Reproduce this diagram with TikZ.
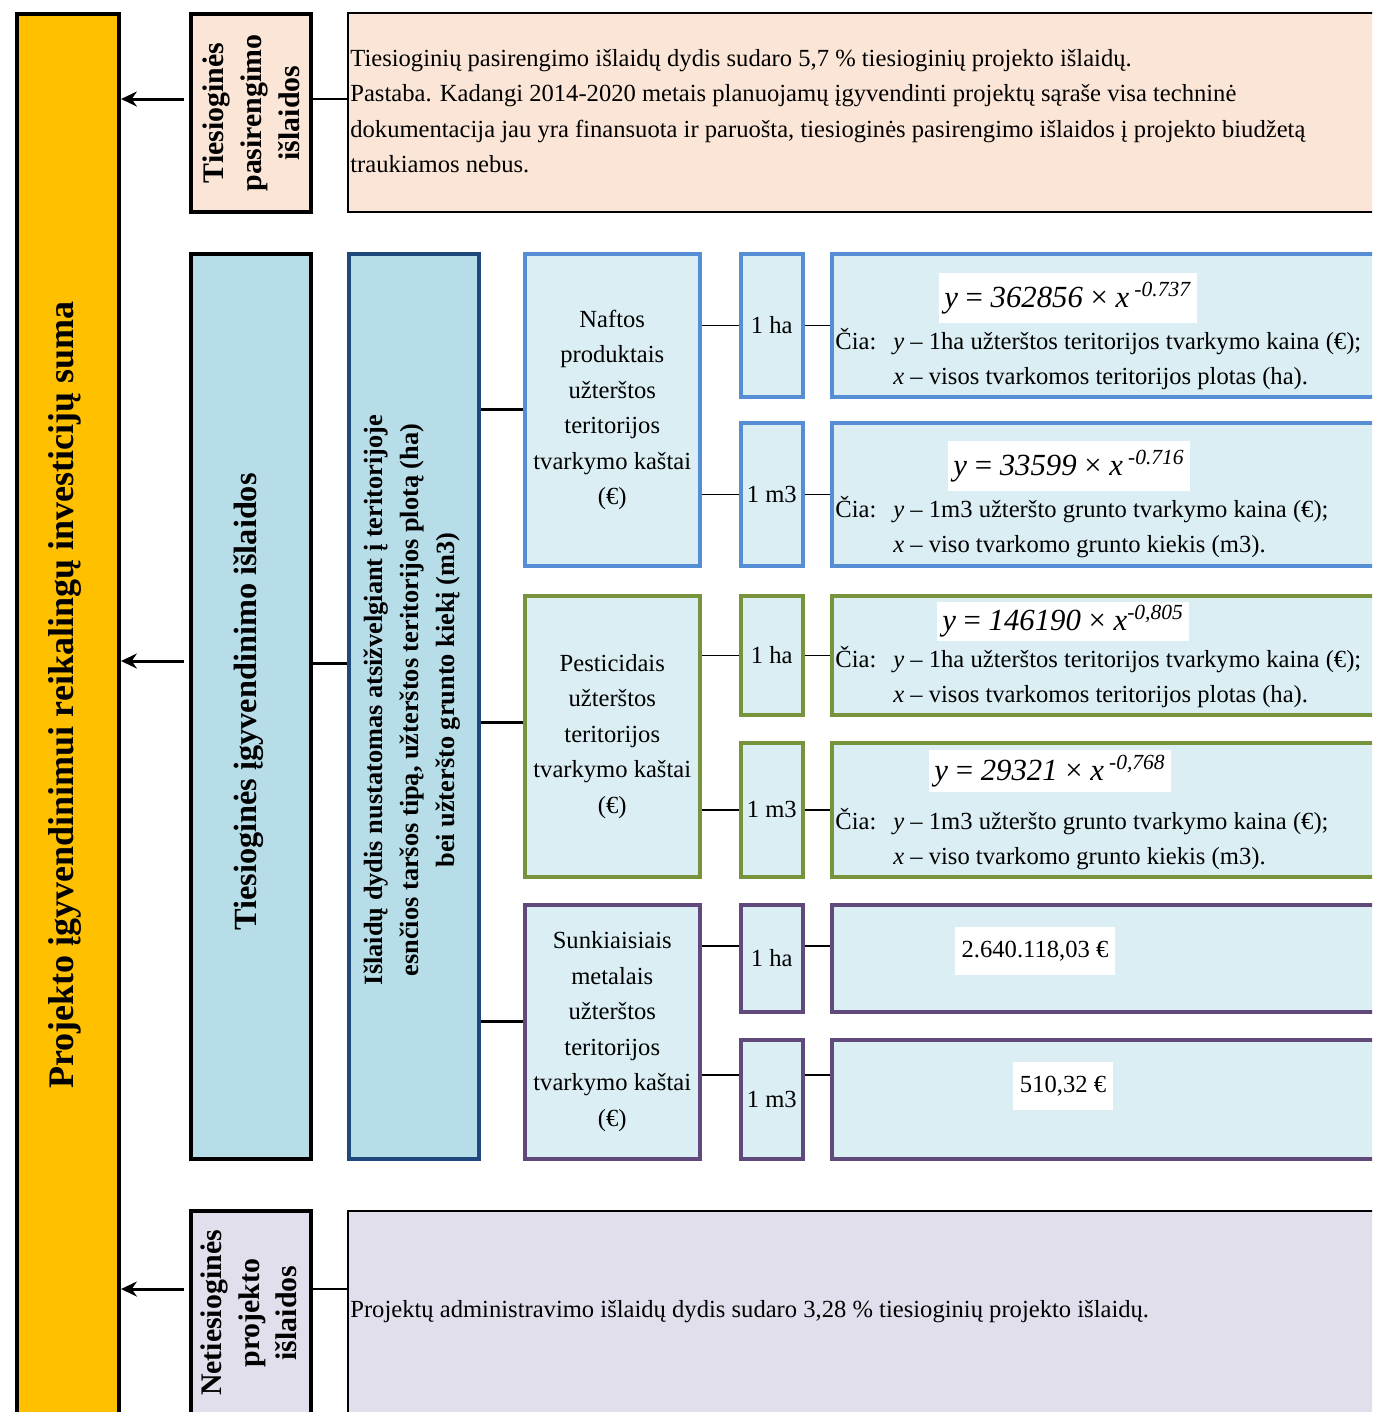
\documentclass[tikz,border=0pt]{standalone}
\usepackage{fontspec}
\setmainfont{Liberation Serif}
\usepackage{xcolor}
\usetikzlibrary{arrows, arrows.meta, positioning}

\definecolor{sumyellow}{HTML}{FFC000}
\definecolor{prepfill}{HTML}{FBE5D6}
\definecolor{implfill}{HTML}{B7DEE8}
\definecolor{paleblue}{HTML}{DAEEF3}
\definecolor{indirfill}{HTML}{E2DFEC}
\definecolor{oilblue}{HTML}{558ED5}
\definecolor{pestgreen}{HTML}{77933C}
\definecolor{metalpurple}{HTML}{604A7B}
\definecolor{navyline}{HTML}{1F497D}

\newcommand{\bodyfont}{\fontsize{14}{20.2}\selectfont}
\newcommand{\cia}[2]{\begin{tabular}{@{}p{1.16cm}@{}l@{}}Čia: & \textit{y} – #1\\ & \textit{x} – #2\end{tabular}}
\newcommand{\powform}[2]{\textit{y} = \textit{#1} × \textit{x}\,\textsuperscript{\textit{#2}}}

\begin{document}
\begin{tikzpicture}[x=0.02cm, y=-0.02cm,
		frame/.style={rectangle, draw=black, line width=2.3pt, anchor=north west, inner sep=0pt},
		notebox/.style={rectangle, draw=black, line width=1.1pt, anchor=north west, inner sep=0pt},
		group/.style={rectangle, draw=#1, line width=2pt, fill=paleblue, anchor=north west,
				inner sep=0pt, align=center, font=\bodyfont},
		boxsize/.style 2 args={minimum width=#1*0.02cm, minimum height=#2*0.02cm},
		vtext/.style={rotate=90, align=center, font=\bfseries\fontsize{17}{21.5}\selectfont},
		formula/.style={fill=white, inner xsep=3pt, inner ysep=5pt, font=\fontsize{17.5}{19}\selectfont},
		explain/.style={anchor=west, inner sep=0pt, align=left, font=\bodyfont},
		arrow/.style={draw, line width=1.7pt, -{Stealth[length=9pt, width=8.5pt]}, shorten <=3pt},
		thinline/.style={draw, line width=0.85pt},
		boldline/.style={draw, line width=1.7pt}]

		\useasboundingbox (0,0) rectangle (1372,1412);
		\clip (0,0) rectangle (1372,1412);
		\fill [white] (0,0) rectangle (1372,1412);

		% Define nodes
		\node [frame, fill=sumyellow, boxsize={102}{1420}] (sum) at (15,12) {};
		\node [vtext, font=\bfseries\fontsize{20.5}{24}\selectfont] (sumtext) at (65,695) {Projekto įgyvendinimui reikalingų investicijų suma};

		\node [frame, fill=prepfill, boxsize={120}{198}] (prep) at (189,12) {};
		\node [vtext] (preptext) at (prep.center) {Tiesioginės\\pasirengimo\\išlaidos};
		\node [notebox, fill=prepfill, boxsize={1100}{199}] (prepnote) at (347,12) {};
		\node [explain] (prepnotetext) at (350,111) {Tiesioginių pasirengimo išlaidų dydis sudaro 5,7 \% tiesioginių projekto išlaidų.\\
				Pastaba. Kadangi 2014-2020 metais planuojamų įgyvendinti projektų sąraše visa techninė\\
				dokumentacija jau yra finansuota ir paruošta, tiesioginės pasirengimo išlaidos į projekto biudžetą\\
				traukiamos nebus.};

		\node [frame, fill=implfill, boxsize={120}{905}] (impl) at (189,252) {};
		\node [vtext, font=\bfseries\fontsize{18.4}{22}\selectfont] (impltext) at (249,702) {Tiesioginės įgyvendinimo išlaidos};
		\node [frame, draw=navyline, line width=2pt, fill=implfill, boxsize={130}{905}] (calc) at (347,252) {};
		\node [vtext, font=\bfseries\fontsize{15}{20.4}\selectfont] (calctext) at (412,700) {Išlaidų dydis nustatomas atsižvelgiant į teritorijoje\\esnčios taršos tipą, užterštos teritorijos plotą (ha)\\bei užteršto grunto kiekį (m3)};

		% oil products
		\node [group=oilblue, boxsize={175}{312}] (oil) at (523,252) {Naftos\\produktais\\užterštos\\teritorijos\\tvarkymo kaštai\\(€)};
		\node [group=oilblue, boxsize={62}{143}] (oilha) at (739,252) {1 ha};
		\node [group=oilblue, boxsize={62}{143}] (oilm3) at (739,421) {1 m3};
		\node [group=oilblue, boxsize={600}{143}] (oilhaval) at (830,252) {};
		\node [group=oilblue, boxsize={600}{143}] (oilm3val) at (830,421) {};
		\node [formula] (oilhaform) at (1068,298) {\powform{362856}{-0.737}};
		\node [explain] (oilhaexpl) at (835,360) {\cia{1ha užterštos teritorijos tvarkymo kaina (€);}{visos tvarkomos teritorijos plotas (ha).}};
		\node [formula] (oilm3form) at (1069,466) {\powform{33599}{-0.716}};
		\node [explain] (oilm3expl) at (835,528) {\cia{1m3 užteršto grunto tvarkymo kaina (€);}{viso tvarkomo grunto kiekis (m3).}};

		% pesticides
		\node [group=pestgreen, boxsize={175}{281}] (pest) at (523,594) {Pesticidais\\užterštos\\teritorijos\\tvarkymo kaštai\\(€)};
		\node [group=pestgreen, boxsize={62}{119}] (pestha) at (739,594) {1 ha};
		\node [group=pestgreen, boxsize={62}{134}] (pestm3) at (739,741) {1 m3};
		\node [group=pestgreen, boxsize={600}{119}] (pesthaval) at (830,594) {};
		\node [group=pestgreen, boxsize={600}{134}] (pestm3val) at (830,741) {};
		\node [formula, inner ysep=2pt] (pesthaform) at (1063,621) {\textit{y} = \textit{146190} × \textit{x}\textsuperscript{\textit{-0,805}}};
		\node [explain] (pesthaexpl) at (835,678) {\cia{1ha užterštos teritorijos tvarkymo kaina (€);}{visos tvarkomos teritorijos plotas (ha).}};
		\node [formula, inner ysep=3pt] (pestm3form) at (1050,771) {\powform{29321}{-0,768}};
		\node [explain] (pestm3expl) at (835,840) {\cia{1m3 užteršto grunto tvarkymo kaina (€);}{viso tvarkomo grunto kiekis (m3).}};

		% heavy metals
		\node [group=metalpurple, boxsize={175}{254}] (metal) at (523,903) {Sunkiaisiais\\metalais\\užterštos\\teritorijos\\tvarkymo kaštai\\(€)};
		\node [group=metalpurple, boxsize={62}{107}] (metalha) at (739,903) {1 ha};
		\node [group=metalpurple, boxsize={62}{119}] (metalm3) at (739,1038) {1 m3};
		\node [group=metalpurple, boxsize={600}{107}] (metalhaval) at (830,903) {};
		\node [group=metalpurple, boxsize={600}{119}] (metalm3val) at (830,1038) {};
		\node [formula, font=\bodyfont, inner xsep=4pt, inner ysep=8pt] (metalhasum) at (1035,951) {2.640.118,03 €};
		\node [formula, font=\bodyfont, inner xsep=4pt, inner ysep=8pt] (metalm3sum) at (1063,1086) {510,32 €};

		\node [frame, fill=indirfill, boxsize={120}{210}] (indir) at (189,1209) {};
		\node [vtext] (indirtext) at (249,1313) {Netiesioginės\\projekto\\išlaidos};
		\node [notebox, fill=indirfill, boxsize={1100}{210}] (indirnote) at (347,1210) {};
		\node [explain] (indirnotetext) at (350,1312) {Projektų administravimo išlaidų dydis sudaro 3,28 \% tiesioginių projekto išlaidų.};

		% Draw connections
		\path [arrow] ([yshift=0.28cm]prep.west) -- ([yshift=0.28cm]prep.west -| sum.east);
		\path [thinline] ([yshift=0.28cm]prep.east) -- ([yshift=0.28cm]prep.east -| prepnote.west);
		\path [arrow] ([yshift=0.91cm]impl.west) -- ([yshift=0.91cm]impl.west -| sum.east);
		\path [boldline] ([yshift=0.87cm]impl.east) -- ([yshift=0.87cm]impl.east -| calc.west);
		\path [arrow] ([yshift=0.54cm]indir.west) -- ([yshift=0.54cm]indir.west -| sum.east);
		\path [thinline] ([yshift=0.54cm]indir.east) -- ([yshift=0.54cm]indir.east -| indirnote.west);

		\foreach \g/\s in {oil/0, pest/0.27, metal/0.2}
			\path [boldline] ([yshift=\s cm]\g.west) -- ([yshift=\s cm]\g.west -| calc.east);

		\foreach \g/\u/\v/\s in {oil/oilha/oilhaval/0, oil/oilm3/oilm3val/0,
				pest/pestha/pesthaval/0, pest/pestm3/pestm3val/0,
				metal/metalha/metalhaval/0.25, metal/metalm3/metalm3val/0.49}
			{
				\path [thinline] ([yshift=\s cm]\u.west) -- ([yshift=\s cm]\u.west -| \g.east);
				\path [thinline] ([yshift=\s cm]\u.east) -- ([yshift=\s cm]\u.east -| \v.west);
			}

	\end{tikzpicture}
\end{document}
